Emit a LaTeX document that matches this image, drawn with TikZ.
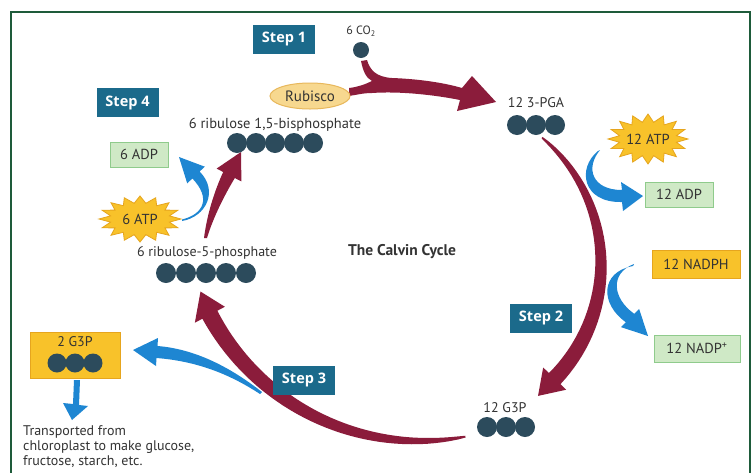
\documentclass[tikz,border=0pt]{standalone}
\usepackage{fontspec}
\setmainfont{PT Sans}
\newfontfamily\stepfont{Open Sans}
\usetikzlibrary{shapes.geometric,calc}
\definecolor{cyred}{HTML}{8B1C3B}
\definecolor{cyblue}{HTML}{1E86D2}
\definecolor{stepbg}{HTML}{1B6A8B}
\definecolor{dotc}{HTML}{2C4B5C}
\definecolor{gfill}{HTML}{CFE9C6}
\definecolor{gline}{HTML}{8FCB8C}
\definecolor{ofill}{HTML}{F8C22A}
\definecolor{oline}{HTML}{E6A51E}
\definecolor{rfill}{HTML}{F7D88F}
\definecolor{rline}{HTML}{E8B85C}
\definecolor{framec}{HTML}{1E5B3A}
\definecolor{txt}{HTML}{333333}
\begin{document}
\begin{tikzpicture}[x=1pt,y=-1pt,
  declare function={hwa(\t)=0.5+7.5*pow((\t+50.5)/94.5,0.6);
                     hwb(\t)=0.5+8*pow((\t-78.5)/73.5,0.6);},
  stepbox/.style={fill=stepbg,text=white,font=\stepfont\bfseries\fontsize{14.5}{14.5}\selectfont,minimum width=62,minimum height=29,inner sep=0},
  greenbox/.style={fill=gfill,draw=gline,line width=1,text=txt,font=\fontsize{14.5}{14.5}\selectfont,minimum height=25,inner sep=0},
  orangebox/.style={fill=ofill,draw=oline,line width=1,text=txt,font=\fontsize{14.5}{14.5}\selectfont,minimum height=28,inner sep=0},
  lbl/.style={text=txt,font=\fontsize{14}{14}\selectfont,inner sep=0},
  dot/.style={circle,fill=dotc,minimum size=20,inner sep=0},
  redarrow/.style={fill=cyred},
  bluearrow/.style={fill=cyblue},
  burst/.style={fill=ofill,draw=oline,line width=0.8}]
\useasboundingbox (0,0) rectangle (755,472);
\fill[white] (0,0) rectangle (755,472);
\draw[framec,line width=2.5] (11,490) -- (11,12) -- (750,12) -- (750,490);

% red arrow 1 : CO2 + RuBP -> 3-PGA
\fill[redarrow] (361,61) .. controls (363,71) and (366,78) .. (372,81)
  .. controls (366,84) and (358,87) .. (349,88) -- (349,96)
  .. controls (356,95) and (363,93) .. (372,93)
  .. controls (400,91) and (435,95) .. (460,100) -- (457,111) -- (496,102) -- (472,76) -- (462,88)
  .. controls (445,83) and (420,79) .. (392,78)
  .. controls (376,77) and (370,70) .. (367,60) -- cycle;
% red arrow 2 : 3-PGA -> G3P
\fill[redarrow] plot[domain=-50:44,samples=40] ({436+(165+hwa(\x))*cos(\x)},{264+(165+hwa(\x))*sin(\x)})
  -- ($(436,264)+(44:181)$) -- ($(436,264)+(44:165)+(134:24)$) -- ($(436,264)+(44:149)$)
  -- plot[domain=44:-50,samples=40] ({436+(165-hwa(\x))*cos(\x)},{264+(165-hwa(\x))*sin(\x)}) -- cycle;
% red arrow 3 : G3P -> ribulose-5-phosphate
\fill[redarrow] plot[domain=79:152,samples=40] ({420+(238+hwb(\x))*cos(\x)},{203+(238+hwb(\x))*sin(\x)})
  -- ($(420,203)+(152:255)$) -- ($(420,203)+(152:238)+(248:25)$) -- ($(420,203)+(152:221)$)
  -- plot[domain=152:79,samples=40] ({420+(238-hwb(\x))*cos(\x)},{203+(238-hwb(\x))*sin(\x)}) -- cycle;
% red arrow 4 : ribulose-5-phosphate -> RuBP
\fill[redarrow] (204,238) .. controls (207,215) and (214,192) .. (223.2,172) -- (216.6,168.6) -- (241,152)
  -- (241.4,181.4) -- (234.8,178) .. controls (224,196) and (213,218) .. (207,238) -- cycle;

% blue arrows
\fill[bluearrow] (182,221) .. controls (206,217) and (219,191) .. (199.6,171.5) -- (204.8,166.7) -- (179,157)
  -- (187.2,183.3) -- (192.4,178.5) .. controls (211,198) and (204,214) .. (182,219.5) -- cycle;
\fill[bluearrow] (598,151) .. controls (577,168) and (582,203) .. (622,202) -- (623,211) -- (643,196) -- (621,182)
  -- (622,190) .. controls (592,190) and (585,168) .. (600,150) -- cycle;
\fill[bluearrow] (633,266) .. controls (600,272) and (600,304) .. (625.8,322.2) -- (620.9,327.1) -- (648,336)
  -- (639.1,308.9) -- (634.2,313.8) .. controls (612,298) and (610,273) .. (634,264) -- cycle;
\fill[bluearrow] (262,392) .. controls (230,367) and (195,349) .. (157.5,346) -- (158,338) -- (133,350)
  -- (156,366) -- (156.5,358) .. controls (195,361) and (228,373) .. (260,394) -- cycle;
\fill[bluearrow] (74,380) -- (80,380) -- (79,405) -- (88,406) -- (72,420) -- (63,403) -- (73,404) -- cycle;

% step boxes
\node[stepbox] (s1) at (284,39) {Step 1};
\node[stepbox] (s4) at (127.5,102.5) {Step 4};
\node[stepbox] (s2) at (541,318) {Step 2};
\node[stepbox] (s3) at (304,380) {Step 3};

% CO2
\node[lbl,font=\fontsize{12}{12}\selectfont] (co2t) at (361,31) {6 CO\textsubscript{2}};
\node[dot,minimum size=16] (co2) at (361,50) {};
% Rubisco
\node[ellipse,fill=rfill,draw=rline,line width=1,minimum width=80,minimum height=26,inner sep=0,text=txt,font=\fontsize{15}{15}\selectfont] (rub) at (310,96) {Rubisco};

% RuBP
\node[lbl,font=\fontsize{14.5}{14.5}\selectfont] (rubpt) at (275,125) {6 ribulose 1,5-bisphosphate};
\foreach \i in {0,...,4} \node[dot] (rb\i) at (237+19*\i,143) {};
% 3-PGA
\node[lbl] (pgat) at (536,103) {12 3-PGA};
\foreach \i in {0,...,2} \node[dot] (pg\i) at (517+19*\i,125) {};
% 12 G3P
\node[lbl] (g3pt) at (505,408) {12 G3P};
\foreach \i in {0,...,2} \node[dot] (gt\i) at (487+19*\i,427) {};
% ribulose-5-phosphate
\node[lbl] (r5pt) at (207,253) {6 ribulose-5-phosphate};
\foreach \i in {0,...,4} \node[dot] (r5\i) at (166+20*\i,273) {};

% title
\node[text=txt,font=\bfseries\fontsize{15.5}{15.5}\selectfont,inner sep=0] (title) at (402,252) {The Calvin Cycle};

% starbursts
\filldraw[burst] plot[domain=0:32,samples=33] ({140+(mod(\x,2)==0 ? 41 : 30)*cos(\x*11.25)},{219+(mod(\x,2)==0 ? 23 : 16)*sin(\x*11.25)}) -- cycle;
\node[lbl,font=\fontsize{14.5}{14.5}\selectfont] (atp6) at (140,219) {6 ATP};
\filldraw[burst] plot[domain=0:32,samples=33] ({648+(mod(\x,2)==0 ? 40 : 29)*cos(\x*11.25)},{139+(mod(\x,2)==0 ? 25 : 17)*sin(\x*11.25)}) -- cycle;
\node[lbl,font=\fontsize{14.5}{14.5}\selectfont] (atp12) at (648,139) {12 ATP};

% side boxes
\node[greenbox,minimum width=58] (adp6) at (139,154.5) {6 ADP};
\node[greenbox,minimum width=68] (adp12) at (679,194.5) {12 ADP};
\node[orangebox,minimum width=88] (nadph) at (696,264) {12 NADPH};
\node[greenbox,minimum width=86,minimum height=27] (nadp) at (697,348.5) {12 NADP\textsuperscript{+}};

% 2 G3P box
\node[orangebox,minimum width=90,minimum height=46] (g2box) at (75,355) {};
\node[lbl] (g2t) at (75,342) {2 G3P};
\foreach \i in {0,...,2} \node[dot,minimum size=19] (g2\i) at (57+18*\i,363) {};

% transported text
\node[lbl,align=left,anchor=north west,font=\fontsize{14}{15}\selectfont] (trans) at (23,425) {Transported from\\chloroplast to make glucose,\\fructose, starch, etc.};
\end{tikzpicture}
\end{document}
